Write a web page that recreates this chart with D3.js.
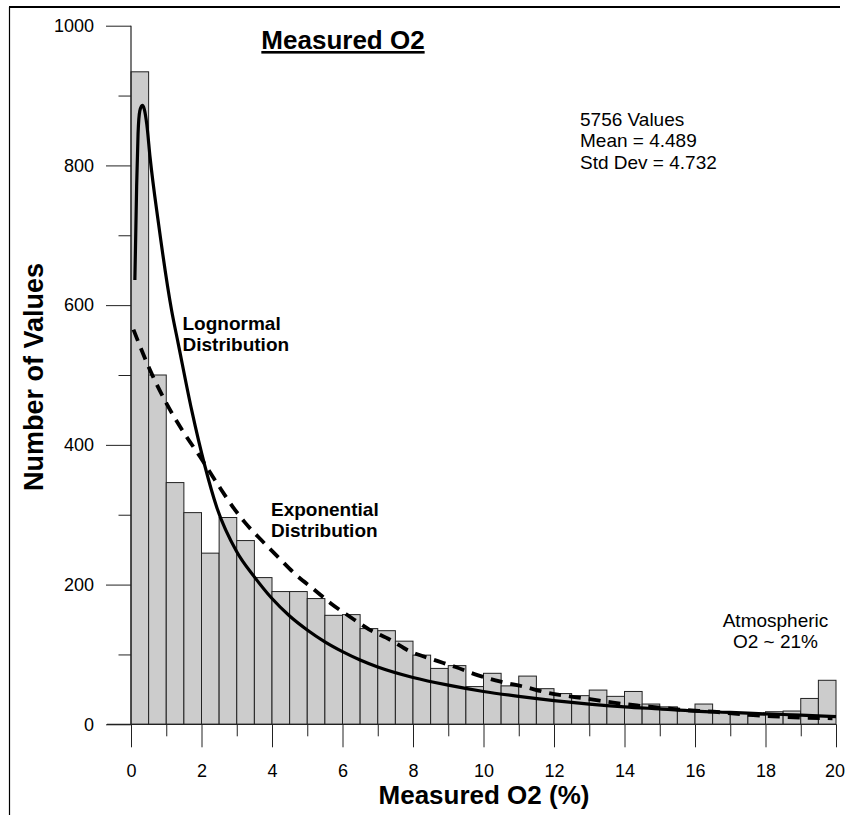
<!DOCTYPE html>
<html><head><meta charset="utf-8">
<script src="https://cdn.jsdelivr.net/npm/d3@7"></script>
<style>
html,body{margin:0;padding:0;background:#fff;}
svg{display:block;font-family:"Liberation Sans",Arial,sans-serif;}
</style></head>
<body>
<svg id="chart" width="845" height="815"></svg>
<script>
// ---- data ----
const binWidth = 0.5;
const binStarts = d3.range(0, 20, 0.5);
const counts = [934,500,346,303,245,296,263,210,190,190,
                180,156,157,137,134,119,99,80,84,54,
                73,55,69,51,44,41,49,40,47,29,
                25,20,29,17,16,13,18,19,37,63];
const lognormalX = [0.11,0.16,0.20,0.25,0.32,0.38,0.45,0.54,0.78,1.15,1.34,1.72,2.10,2.43,3.0,3.5,4.0,4.5,5.0,5.5,6.0,6.5,7.0,8.0,9.0,10.0,11.0,12.0,13.0,14.0,15.0,16.0,17.0,18.0,19.0,20.0];
const lognormalY = [636,770,845,878,886,880,858,812,717,593,545,450,369,311,247,211,180,155,135,118,104,92,82,67,56,47,40,34,29,25,22,19,17,15,13,11];
const expX = [0.07,0.54,1.01,1.48,1.96,2.48,2.95,3.23,3.73,4.18,4.68,5.19,5.67,6.21,6.75,7.35,7.89,8.55,9.21,9.85,10.49,11.13,11.84,12.45,13.02,13.68,14.35,15.0,15.57,16.52,17.65,18.4,19.06,19.9];
const expY = [565,507,459,419,383,342,307,289,262,239,214,193,173,154,136,121,105,93,82,70,61,54,45,40,36,31,27,24,21,18,13,11,9.5,8.6];
const xTicksMajor = [0,2,4,6,8,10,12,14,16,18,20];
const xTicksMinor = [1,3,5,7,9,11,13,15,17,19];
const yTicksMajor = [0,200,400,600,800,1000];
const yTicksMinor = [100,300,500,700,900];
const statsLines = ["5756 Values","Mean = 4.489","Std Dev = 4.732"];

// ---- layout ----
const svg = d3.select("#chart");
const x = d3.scaleLinear().domain([0,20]).range([131,836]);
const y = d3.scaleLinear().domain([0,1000]).range([724.3,25.7]);

// frame
svg.append("line").attr("x1",9).attr("x2",840).attr("y1",7).attr("y2",7).attr("stroke","#000").attr("stroke-width",2);
svg.append("line").attr("x1",9.5).attr("x2",9.5).attr("y1",7).attr("y2",815).attr("stroke","#000").attr("stroke-width",1.2);

// bars
svg.append("g").selectAll("rect").data(counts).join("rect")
  .attr("x",(d,i)=>x(binStarts[i]))
  .attr("y",d=>y(d))
  .attr("width",(d,i)=>x(binStarts[i]+binWidth)-x(binStarts[i]))
  .attr("height",d=>y(0)-y(d))
  .attr("fill","#cccccc").attr("stroke","#222").attr("stroke-width",1);

// axes
const gx = svg.append("g").attr("transform",`translate(0,${y(0)})`);
gx.call(d3.axisBottom(x).tickValues(xTicksMajor).tickSize(23).tickPadding(17).tickFormat(d3.format("d")));
const gxm = svg.append("g").attr("transform",`translate(0,${y(0)})`);
gxm.call(d3.axisBottom(x).tickValues(xTicksMinor).tickSize(12).tickFormat(""));
const gy = svg.append("g").attr("transform",`translate(${x(0)},0)`);
gy.call(d3.axisLeft(y).tickValues(yTicksMajor).tickSize(25).tickPadding(12).tickFormat(d3.format("d")));
const gym = svg.append("g").attr("transform",`translate(${x(0)},0)`);
gym.call(d3.axisLeft(y).tickValues(yTicksMinor).tickSize(12.5).tickFormat(""));
[gx,gxm,gy,gym].forEach(g=>{
  g.select(".domain").remove();
  g.selectAll(".tick line").attr("stroke","#222").attr("stroke-width",1);
  g.selectAll(".tick text").attr("font-size",18).attr("fill","#000").attr("font-family","Liberation Sans, Arial, sans-serif");
});
// keep last x label inside the window
gx.selectAll(".tick text").filter(d=>d===20).attr("text-anchor","end").attr("x",8.5);

// axis lines
svg.append("line").attr("x1",107).attr("x2",x(20)).attr("y1",y(0)).attr("y2",y(0)).attr("stroke","#222").attr("stroke-width",1.2);
svg.append("line").attr("x1",x(0)).attr("x2",x(0)).attr("y1",y(0)).attr("y2",y(1000)).attr("stroke","#222").attr("stroke-width",1.2);

// curves
const line = d3.line().x(d=>x(d[0])).y(d=>y(d[1])).curve(d3.curveMonotoneX);
svg.append("path").datum(lognormalX.map((v,i)=>[v,lognormalY[i]]))
  .attr("d",line).attr("fill","none").attr("stroke","#000").attr("stroke-width",3.2);
svg.append("path").datum(expX.map((v,i)=>[v,expY[i]]))
  .attr("d",line).attr("fill","none").attr("stroke","#000").attr("stroke-width",3.8)
  .attr("stroke-dasharray","12,8");

// texts
svg.append("text").attr("x",343).attr("y",49).attr("text-anchor","middle")
  .attr("font-size",26).attr("font-weight","bold").attr("text-decoration","underline").text("Measured O2");
svg.append("text").attr("x",484).attr("y",804).attr("text-anchor","middle")
  .attr("font-size",26).attr("font-weight","bold").text("Measured O2 (%)");
svg.append("text").attr("transform","translate(43,377) rotate(-90)").attr("text-anchor","middle")
  .attr("font-size",27).attr("font-weight","bold").text("Number of Values");

const st = svg.append("text").attr("font-size",19);
statsLines.forEach((s,i)=>st.append("tspan").attr("x",580).attr("y",125.7+i*21.4).text(s));

const ln = svg.append("text").attr("font-size",19).attr("font-weight","bold");
["Lognormal","Distribution"].forEach((s,i)=>ln.append("tspan").attr("x",182.5).attr("y",330+i*21.2).text(s));
const ex = svg.append("text").attr("font-size",19).attr("font-weight","bold");
["Exponential","Distribution"].forEach((s,i)=>ex.append("tspan").attr("x",271).attr("y",516+i*21.3).text(s));
const at = svg.append("text").attr("font-size",19).attr("text-anchor","middle");
["Atmospheric","O2 ~ 21%"].forEach((s,i)=>at.append("tspan").attr("x",775.5).attr("y",626.7+i*21.6).text(s));
</script>
</body></html>
